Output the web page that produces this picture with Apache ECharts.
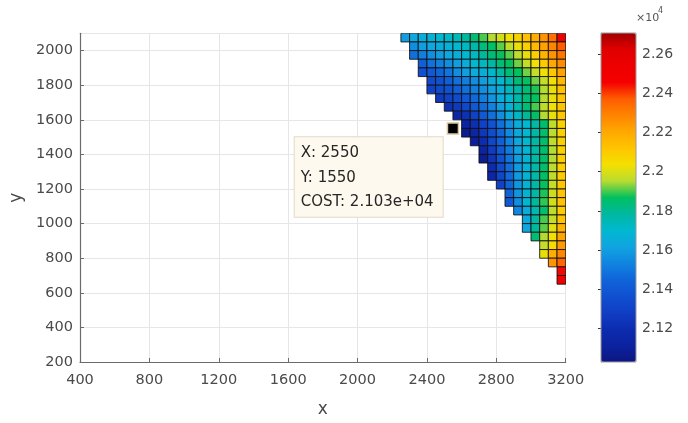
<!DOCTYPE html>
<html>
<head>
<meta charset="utf-8">
<script src="https://cdn.jsdelivr.net/npm/echarts@6/dist/echarts.min.js"></script>
<style>
html,body{margin:0;padding:0;background:#fff;}
#chart{width:688px;height:423px;}
</style>
</head>
<body>
<div id="chart"></div>
<script>
// ---- data ----
const CELL = 50;
// left edge (x) of each cell column
const colX = [2250,2300,2350,2400,2450,2500,2550,2600,2650,2700,2750,2800,2850,2900,2950,3000,3050,3100,3150];
// bottom edge (y) of each cell row, top row first
const rowY = [2050,2000,1950,1900,1850,1800,1750,1700,1650,1600,1550,1500,1450,1400,1350,1300,1250,1200,1150,1100,1050,1000,950,900,850,800,750,700,650];
const skip = n => new Array(n).fill(null);
// COST per cell (null = no face)
const cost = [
  [21600,21630,21660,21680,21700,21720,21750,21790,21840,21900,21950,21990,22030,22080,22130,22190,22250,22330,22550],
  [...skip(1),21560,21600,21630,21650,21670,21700,21730,21770,21830,21860,21910,21960,22020,22080,22150,22220,22280,22370],
  [...skip(1),21480,21520,21560,21600,21630,21660,21700,21730,21790,21840,21870,21910,21960,22020,22090,22170,22250,22320],
  [...skip(2),21430,21480,21520,21560,21600,21650,21700,21730,21780,21840,21870,21920,21970,22030,22100,22200,22270],
  [...skip(2),21370,21400,21450,21490,21560,21600,21650,21660,21710,21780,21840,21870,21920,21970,22030,22110,22220],
  [...skip(3),21340,21370,21430,21480,21520,21560,21600,21650,21700,21760,21840,21870,21920,21970,22040,22150],
  [...skip(3),21300,21340,21370,21430,21480,21520,21560,21610,21660,21740,21780,21840,21880,21950,22020,22130],
  [...skip(4),21260,21300,21340,21400,21460,21520,21580,21650,21700,21770,21840,21870,21950,22020,22120],
  [...skip(5),21220,21260,21330,21400,21470,21530,21600,21670,21760,21840,21900,21960,22030,22120],
  [...skip(6),21150,21220,21300,21400,21480,21560,21650,21730,21800,21860,21950,22020,22110],
  [...skip(7),21130,21210,21300,21380,21480,21560,21650,21700,21780,21850,21960,22080],
  [...skip(7),21080,21150,21250,21350,21450,21550,21640,21700,21780,21850,21960,22080],
  [...skip(8),21100,21200,21320,21430,21530,21630,21700,21780,21850,21960,22080],
  [...skip(9),21130,21270,21400,21510,21610,21690,21770,21850,21950,22080],
  [...skip(9),21080,21230,21370,21490,21600,21680,21770,21850,21950,22090],
  [...skip(10),21190,21340,21470,21590,21680,21770,21850,21960,22090],
  [...skip(10),21150,21320,21460,21590,21680,21770,21860,21960,22100],
  [...skip(11),21300,21450,21580,21680,21780,21870,21970,22110],
  [...skip(12),21440,21580,21680,21780,21880,21980,22120],
  [...skip(12),21400,21560,21690,21790,21890,21990,22130],
  [...skip(13),21540,21650,21760,21850,21960,22100],
  [...skip(14),21640,21780,21900,21970,22120],
  [...skip(14),21620,21790,21910,22010,22170],
  [...skip(15),21840,21950,22040,22210],
  [...skip(16),21970,22050,22240],
  [...skip(16),22020,22190,22280],
  [...skip(17),22250,22350],
  [...skip(18),22450],
  [...skip(18),22500]
];
const costMin = 21030, costMax = 22707;
const xTicks = [400,800,1200,1600,2000,2400,2800,3200];
const yTicks = [200,400,600,800,1000,1200,1400,1600,1800,2000];
const cbTicks = [21200,21400,21600,21800,22000,22200,22400,22600];
const tipX = [2550], tipY = [1550], tipCost = [21030];

// ---- build ----
const cells = [];
rowY.forEach((y, j) => colX.forEach((x, i) => {
  const v = cost[j][i];
  if (v !== null) cells.push([x, y, v]);
}));
const tipData = tipX.map((x, k) => [x, tipY[k], tipCost[k]]);

const FONT = 'DejaVu Sans';
const axisCol = '#6b6b6b';
const labelCol = '#4a4a4a';

const chart = echarts.init(document.getElementById('chart'), null, {renderer: 'canvas'});
chart.setOption({
  animation: false,
  textStyle: {fontFamily: FONT},
  grid: [
    {left: 80, top: 33.3, width: 485.7, height: 328.7, containLabel: false},
    {left: 601, top: 33, width: 35, height: 329, show: true, borderColor: '#9a9a9a', borderWidth: 1, backgroundColor: 'transparent', z: 10}
  ],
  xAxis: [
    {
      type: 'value', gridIndex: 0, min: xTicks[0], max: xTicks[xTicks.length - 1], interval: 400,
      name: 'x', nameLocation: 'middle', nameGap: 39,
      nameTextStyle: {fontSize: 17, color: labelCol, fontFamily: FONT},
      axisLine: {show: true, lineStyle: {color: axisCol, width: 1.2}},
      axisTick: {show: true, inside: true, length: 4, lineStyle: {color: axisCol}},
      axisLabel: {fontSize: 14.5, color: labelCol, margin: 11, fontFamily: FONT, formatter: v => String(v)},
      splitLine: {show: true, lineStyle: {color: '#e6e6e6'}}
    },
    {type: 'value', gridIndex: 1, show: false, min: 0, max: 1}
  ],
  yAxis: [
    {
      type: 'value', gridIndex: 0, min: yTicks[0], max: 2100, interval: 200,
      name: 'y', nameLocation: 'middle', nameGap: 46, nameRotate: 90,
      nameTextStyle: {fontSize: 17, color: labelCol, fontFamily: FONT},
      axisLine: {show: true, lineStyle: {color: axisCol, width: 1.2}},
      axisTick: {show: true, inside: true, length: 4, lineStyle: {color: axisCol}},
      axisLabel: {fontSize: 14.5, color: labelCol, margin: 7, showMaxLabel: false, fontFamily: FONT, formatter: v => String(v)},
      splitLine: {show: true, lineStyle: {color: '#e6e6e6'}}
    },
    {
      type: 'value', gridIndex: 1, min: costMin, max: costMax, position: 'right',
      axisLine: {show: true, lineStyle: {color: '#9a9a9a'}},
      axisTick: {show: true, inside: true, length: 3, customValues: cbTicks, lineStyle: {color: '#333'}},
      axisLabel: {show: true, customValues: cbTicks, fontSize: 14, color: labelCol, margin: 6, fontFamily: FONT,
        formatter: v => String(parseFloat((v / 10000).toFixed(2)))},
      splitLine: {show: false}
    }
  ],
  visualMap: {
    type: 'continuous', seriesIndex: 0, dimension: 2,
    min: costMin, max: costMax, calculable: false, hoverLink: false,
    left: 601, top: 33, itemWidth: 35, itemHeight: 329, padding: 0, text: null,
    inRange: {color: ['#0c1680','#0c22a0','#0c2cb0','#103ec4','#1050d0','#1064da','#1084e0','#10a4e0','#00b8d0','#00b8a0','#00c060','#b8dc30','#f4e000','#ffc400','#ffa800','#ff8400','#ff5c00','#f40000','#ee0000','#e00000','#a00000']}
  },
  graphic: [
    {type: 'text', left: 636, top: 13, style: {text: '×10', fontSize: 11, fontFamily: FONT, fill: '#555'}},
    {type: 'text', left: 658, top: 7, style: {text: '4', fontSize: 8, fontFamily: FONT, fill: '#555'}}
  ],
  series: [
    {
      type: 'custom', xAxisIndex: 0, yAxisIndex: 0, clip: true,
      dimensions: ['x', 'y', 'cost'], encode: {x: 0, y: 1},
      data: cells,
      renderItem: (params, api) => {
        const x = api.value(0), y = api.value(1);
        const p0 = api.coord([x, y + CELL]);
        const p1 = api.coord([x + CELL, y]);
        return {
          type: 'rect',
          shape: {x: p0[0], y: p0[1], width: p1[0] - p0[0], height: p1[1] - p0[1]},
          style: {fill: api.visual('color'), stroke: 'rgba(15,15,15,0.85)', lineWidth: 1}
        };
      }
    },
    {
      type: 'scatter', xAxisIndex: 0, yAxisIndex: 0, z: 5, silent: true,
      data: tipData,
      symbol: 'rect', symbolSize: 11,
      itemStyle: {color: '#000', opacity: 1, borderColor: '#d6c79c', borderWidth: 1.5},
      label: {
        show: true, position: [-152, 15], align: 'left', verticalAlign: 'top',
        formatter: p => 'X: ' + p.value[0] + '\nY: ' + p.value[1] + '\nCOST: ' +
          p.value[2].toExponential(3).replace(/e\+(\d)$/, 'e+0$1'),
        fontSize: 15, lineHeight: 24.5, color: '#262626', fontFamily: FONT,
        backgroundColor: '#fdf9ef', borderColor: '#e3d9c3', borderWidth: 1,
        padding: [4, 9, 2, 6]
      }
    }
  ]
});
</script>
</body>
</html>
